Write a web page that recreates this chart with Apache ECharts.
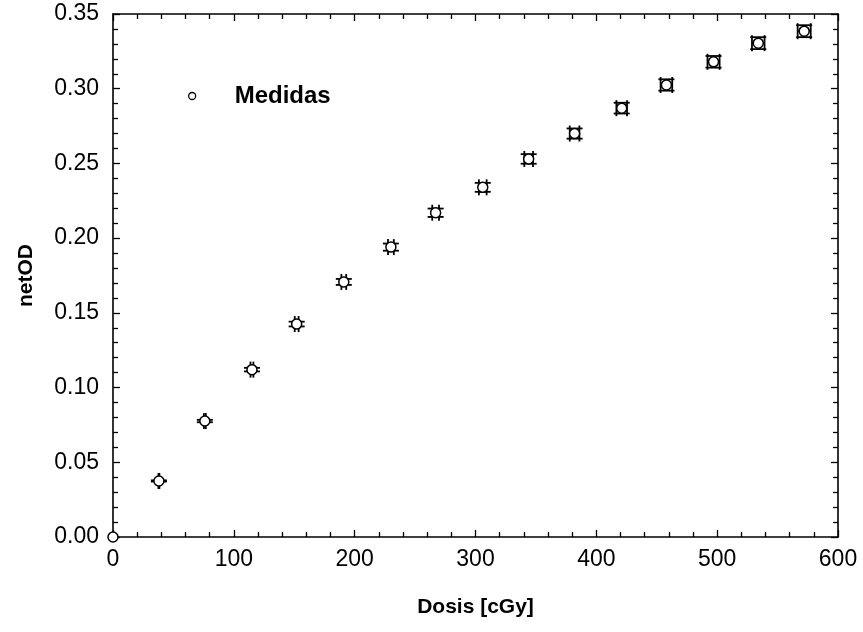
<!DOCTYPE html>
<html>
<head>
<meta charset="utf-8">
<script src="https://cdn.jsdelivr.net/npm/echarts@6/dist/echarts.min.js"></script>
<style>html,body{margin:0;padding:0;background:#fff}#c{width:863px;height:632px}</style>
</head>
<body>
<div id="c"></div>
<script>
const doses = [0, 38, 76, 115, 152, 191, 230, 267, 306, 344, 382, 421, 458, 497, 534, 572];
const netOD = [0.000, 0.0375, 0.0776, 0.112, 0.1425, 0.1707, 0.194, 0.217, 0.234, 0.253, 0.270, 0.287, 0.3025, 0.318, 0.3305, 0.3385];
const doseErr = [0, 0.4, 0.8, 1.2, 1.6, 2.0, 2.4, 2.8, 3.2, 3.6, 4.0, 4.4, 4.8, 5.0, 5.2, 5.4];
const odErr = [0, 0.0004, 0.0008, 0.0012, 0.0016, 0.002, 0.0024, 0.0028, 0.003, 0.0032, 0.0034, 0.0036, 0.0038, 0.0039, 0.004, 0.004];
const xTicks = [0, 100, 200, 300, 400, 500, 600];
const yTicks = [0.00, 0.05, 0.10, 0.15, 0.20, 0.25, 0.30, 0.35];
const seriesName = 'Medidas';
const xTitle = 'Dosis [cGy]';
const yTitle = 'netOD';

const pts = doses.map((d, i) => [d, netOD[i]]);
const errData = doses.map((d, i) => [d, netOD[i], doseErr[i], odErr[i]]);

const font = 'Liberation Sans, Arial, Helvetica, sans-serif';
const axisCommon = {
  axisLine: {show: true, onZero: false, lineStyle: {color: '#000', width: 1.6}},
  axisTick: {show: true, inside: true, length: 7, lineStyle: {color: '#000', width: 1.3}},
  minorTick: {show: true, splitNumber: 5, length: 5, lineStyle: {color: '#000', width: 1.3}},
  splitLine: {show: false},
  minorSplitLine: {show: false}
};

const chart = echarts.init(document.getElementById('c'));
chart.setOption({
  animation: false,
  backgroundColor: '#fff',
  grid: {left: 113, top: 14, right: 25, bottom: 95, containLabel: false},
  legend: {
    data: [seriesName],
    left: 183, top: 79,
    itemWidth: 7, itemHeight: 7,
    icon: 'circle',
    itemStyle: {color: '#fff', borderColor: '#000', borderWidth: 1.3, opacity: 1},
    textStyle: {fontFamily: font, fontSize: 24, fontWeight: 'bold', color: '#000', padding: [0, 0, 0, 34]}
  },
  xAxis: [
    Object.assign({
      type: 'value', position: 'bottom', min: xTicks[0], max: xTicks[xTicks.length - 1], interval: 100,
      name: xTitle, nameLocation: 'middle', nameGap: 60,
      nameTextStyle: {fontFamily: font, fontSize: 21, fontWeight: 'bold', color: '#000'},
      axisLabel: {fontFamily: font, fontSize: 23, color: '#000', margin: 11}
    }, axisCommon),
    Object.assign({
      type: 'value', position: 'top', min: xTicks[0], max: xTicks[xTicks.length - 1], interval: 100,
      axisLabel: {show: false}
    }, axisCommon)
  ],
  yAxis: [
    Object.assign({
      type: 'value', position: 'left', min: yTicks[0], max: yTicks[yTicks.length - 1], interval: 0.05,
      name: yTitle, nameLocation: 'middle', nameGap: 76,
      nameTextStyle: {fontFamily: font, fontSize: 21, fontWeight: 'bold', color: '#000'},
      axisLabel: {fontFamily: font, fontSize: 23, color: '#000', margin: 14, formatter: v => v.toFixed(2)}
    }, axisCommon),
    Object.assign({
      type: 'value', position: 'right', min: yTicks[0], max: yTicks[yTicks.length - 1], interval: 0.05,
      axisLabel: {show: false}
    }, axisCommon)
  ],
  series: [
    {
      type: 'custom',
      name: 'err',
      xAxisIndex: 0, yAxisIndex: 0,
      data: errData,
      clip: false,
      z: 2,
      silent: true,
      renderItem: function (params, api) {
        const x = api.value(0), y = api.value(1), ex = api.value(2), ey = api.value(3);
        const c = api.coord([x, y]);
        const top = api.coord([x, y + ey]);
        const bot = api.coord([x, y - ey]);
        const lft = api.coord([x - ex, y]);
        const rgt = api.coord([x + ex, y]);
        const cap = 8;
        const st = {stroke: '#000', lineWidth: 1.8, fill: null};
        const L = (x1, y1, x2, y2) => ({type: 'line', shape: {x1, y1, x2, y2}, style: st});
        if (x === 0 && y === 0) return {type: 'group', children: []};
        return {
          type: 'group',
          children: [
            L(c[0], top[1], c[0], bot[1]),
            L(c[0] - cap, top[1], c[0] + cap, top[1]),
            L(c[0] - cap, bot[1], c[0] + cap, bot[1]),
            L(lft[0], c[1], rgt[0], c[1]),
            L(lft[0], c[1] - cap, lft[0], c[1] + cap),
            L(rgt[0], c[1] - cap, rgt[0], c[1] + cap)
          ]
        };
      }
    },
    {
      type: 'scatter',
      name: seriesName,
      xAxisIndex: 0, yAxisIndex: 0,
      data: pts,
      symbol: 'circle',
      symbolSize: 10,
      clip: false,
      z: 3,
      itemStyle: {color: '#fff', borderColor: '#000', borderWidth: 1.5, opacity: 1}
    }
  ]
});
</script>
</body>
</html>
